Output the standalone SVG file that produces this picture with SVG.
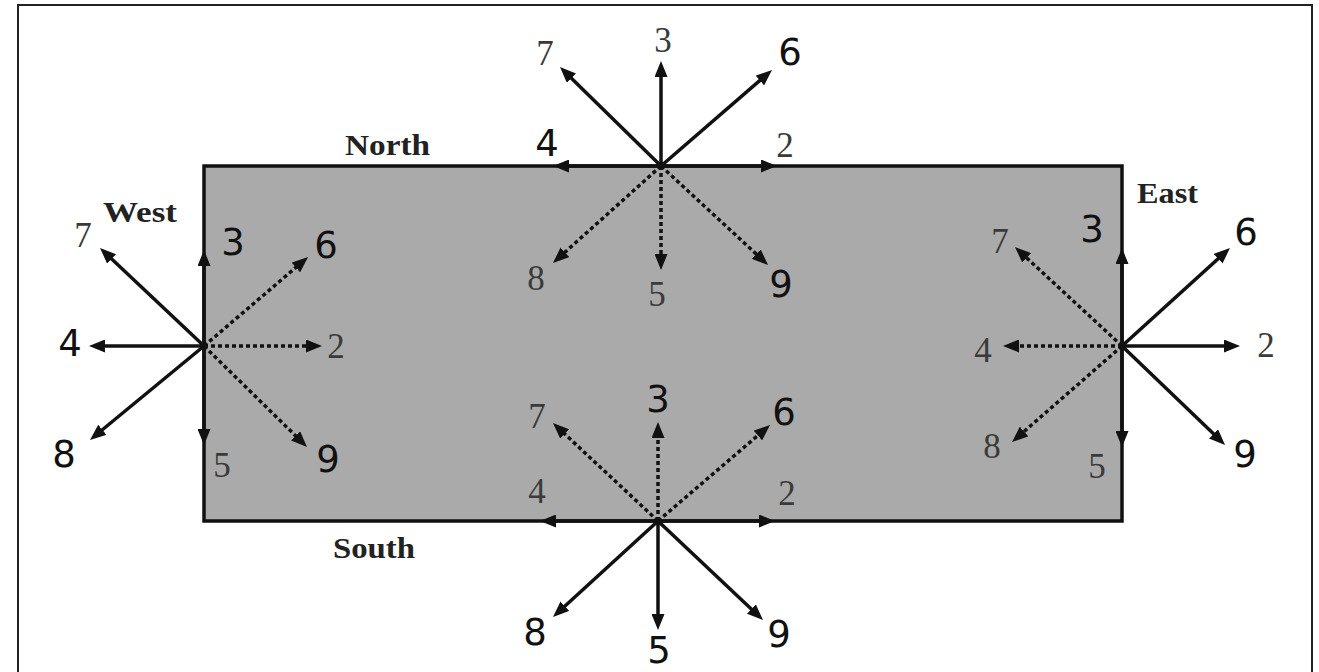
<svg xmlns="http://www.w3.org/2000/svg" width="1319" height="672" viewBox="0 0 1319 672">
<style>
.sl{stroke:#111;stroke-width:3.5;fill:none;marker-end:url(#ah)}
.dl{stroke:#111;stroke-width:3.5;fill:none;stroke-dasharray:4 3;marker-end:url(#ah)}
.se{font-family:"Liberation Serif",serif;font-size:35px;fill:#3a3a3a;text-anchor:middle}
.sa{font-family:"DejaVu Sans",sans-serif;font-size:37px;fill:#111;text-anchor:middle}
.hd{font-family:"Liberation Serif",serif;font-size:30px;font-weight:bold;fill:#222}
</style>
<defs>
<marker id="ah" viewBox="0 0 16 13" refX="9" refY="6.5" markerWidth="16" markerHeight="13" markerUnits="userSpaceOnUse" orient="auto">
<path d="M0,0 L16,6.5 L0,13 z" fill="#111"/>
</marker>
</defs>
<rect width="1319" height="672" fill="#fff"/>
<g id="frame"><path d="M18,672 V5 H1312 V672" fill="none" stroke="#222" stroke-width="2"/></g>
<g id="domain"><rect x="204" y="166" width="918" height="355" fill="#aaaaaa" stroke="#111" stroke-width="3.5"/></g>
<g id="connectors">
<!-- North -->
<line class="sl" x1="661" y1="166" x2="661" y2="68"/>
<line class="sl" x1="661" y1="166" x2="565" y2="71.9"/>
<line class="sl" x1="661" y1="166" x2="766.7" y2="74.6"/>
<line class="sl" x1="661" y1="166" x2="560" y2="166"/>
<line class="sl" x1="661" y1="166" x2="770" y2="166"/>
<line class="dl" x1="661" y1="166" x2="558.2" y2="258.3"/>
<line class="dl" x1="661" y1="166" x2="661" y2="263"/>
<line class="dl" x1="661" y1="166" x2="762.9" y2="260.2"/>
<!-- West -->
<line class="sl" x1="204" y1="346" x2="204" y2="257"/>
<line class="sl" x1="204" y1="346" x2="204" y2="438"/>
<line class="sl" x1="204" y1="346" x2="105.1" y2="252.8"/>
<line class="sl" x1="204" y1="346" x2="96" y2="346"/>
<line class="sl" x1="204" y1="346" x2="95.4" y2="435.5"/>
<line class="dl" x1="204" y1="346" x2="302.7" y2="261.6"/>
<line class="dl" x1="204" y1="346" x2="315" y2="346"/>
<line class="dl" x1="204" y1="346" x2="302" y2="442.1"/>
<!-- East -->
<line class="sl" x1="1122" y1="346" x2="1122" y2="255"/>
<line class="sl" x1="1122" y1="346" x2="1122" y2="440"/>
<line class="dl" x1="1122" y1="346" x2="1020.1" y2="251.8"/>
<line class="dl" x1="1122" y1="346" x2="1010" y2="346"/>
<line class="dl" x1="1122" y1="346" x2="1017.3" y2="437.4"/>
<line class="sl" x1="1122" y1="346" x2="1224.8" y2="252.7"/>
<line class="sl" x1="1122" y1="346" x2="1233" y2="346"/>
<line class="sl" x1="1122" y1="346" x2="1220" y2="440.1"/>
<!-- South -->
<line class="dl" x1="658" y1="521" x2="658" y2="429"/>
<line class="dl" x1="658" y1="521" x2="558.1" y2="427.8"/>
<line class="dl" x1="658" y1="521" x2="764.7" y2="429.6"/>
<line class="sl" x1="658" y1="521" x2="547" y2="521"/>
<line class="sl" x1="658" y1="521" x2="768" y2="521"/>
<line class="sl" x1="658" y1="521" x2="558.2" y2="612.3"/>
<line class="sl" x1="658" y1="521" x2="658" y2="623"/>
<line class="sl" x1="658" y1="521" x2="757.9" y2="615.2"/>
</g>
<g id="north">
<circle cx="661" cy="166" r="4" fill="#111"/>
<text class="hd" x="345" y="155" textLength="85" lengthAdjust="spacingAndGlyphs">North</text>
<text class="se" x="545" y="65">7</text>
<text class="se" x="663" y="52">3</text>
<text class="sa" x="790" y="65">6</text>
<text class="sa" x="547" y="156">4</text>
<text class="se" x="785" y="157">2</text>
<text class="se" x="536" y="290">8</text>
<text class="se" x="657" y="306">5</text>
<text class="sa" x="781" y="297">9</text>
</g>
<g id="west">
<circle cx="204" cy="346" r="4" fill="#111"/>
<text class="hd" x="103" y="222" textLength="74" lengthAdjust="spacingAndGlyphs">West</text>
<text class="se" x="83" y="247">7</text>
<text class="sa" x="233" y="255">3</text>
<text class="sa" x="326" y="258">6</text>
<text class="sa" x="70" y="356">4</text>
<text class="se" x="336" y="358">2</text>
<text class="sa" x="64" y="467">8</text>
<text class="se" x="222" y="477">5</text>
<text class="sa" x="328" y="472">9</text>
</g>
<g id="east">
<circle cx="1122" cy="346" r="4" fill="#111"/>
<text class="hd" x="1137" y="203" textLength="61" lengthAdjust="spacingAndGlyphs">East</text>
<text class="sa" x="1092" y="242">3</text>
<text class="se" x="1000" y="253">7</text>
<text class="sa" x="1246" y="245">6</text>
<text class="se" x="983" y="362">4</text>
<text class="se" x="1266" y="357">2</text>
<text class="se" x="992" y="458">8</text>
<text class="se" x="1097" y="478">5</text>
<text class="sa" x="1245" y="467">9</text>
</g>
<g id="south">
<circle cx="658" cy="521" r="4" fill="#111"/>
<text class="hd" x="333" y="558" textLength="82" lengthAdjust="spacingAndGlyphs">South</text>
<text class="sa" x="658" y="412">3</text>
<text class="se" x="537" y="428">7</text>
<text class="sa" x="784" y="425">6</text>
<text class="se" x="537" y="503">4</text>
<text class="se" x="787" y="505">2</text>
<text class="sa" x="535" y="645">8</text>
<text class="sa" x="659" y="663">5</text>
<text class="sa" x="779" y="647">9</text>
</g>
</svg>
